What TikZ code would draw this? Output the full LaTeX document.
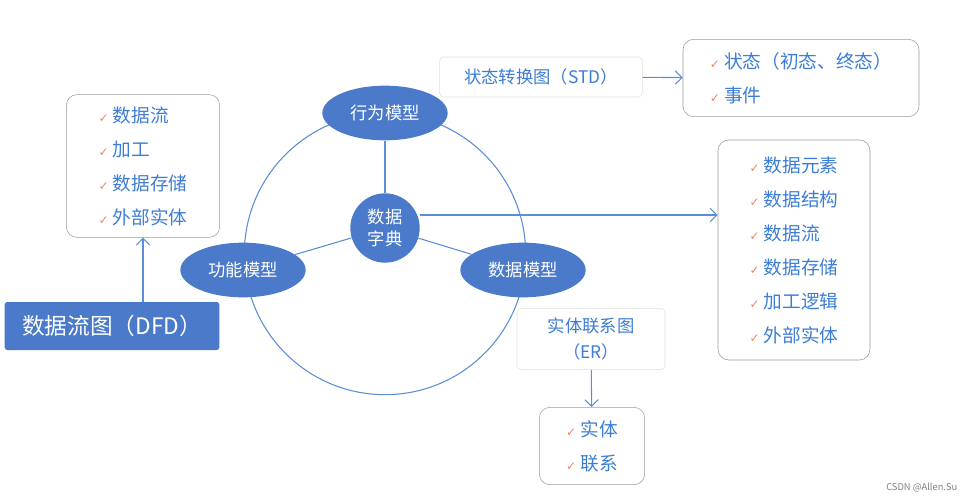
\documentclass[tikz,border=0pt]{standalone}
\usepackage{fontspec}
\setmainfont{Noto Sans CJK SC}
\newfontfamily\symfont{DejaVu Sans}
\usetikzlibrary{shapes.geometric,arrows.meta,positioning,calc}
\definecolor{ovalblue}{HTML}{4A7AC9}
\definecolor{lineblue}{HTML}{5B8ED6}
\definecolor{textblue}{HTML}{3D7DD6}
\definecolor{tick}{HTML}{E8876F}
\newcommand{\ok}{{\symfont\color{tick}\small✓}\ }

\begin{document}
\begin{tikzpicture}[
    x=0.75pt, y=-0.75pt,
    font=\fontsize{13}{16}\selectfont,
    oval/.style={ellipse, fill=ovalblue, text=white, minimum width=94pt, minimum height=41pt, inner sep=0pt},
    listbox/.style={draw=gray!80, rounded corners=8pt, align=left, text=textblue, font=\fontsize{14}{25.5}\selectfont, inner sep=6pt},
    titlebox/.style={draw=gray!25, fill=white, rounded corners=3pt, text=textblue, align=center},
    arrow/.style={-{Straight Barb[length=5pt]}, lineblue, thick},
    link/.style={lineblue, thick}
]
    \useasboundingbox (0,0) rectangle (965,500);

    % Ring of models
    \node[circle, draw=lineblue, thick, minimum size=211pt] (ring) at (385,254) {};
    \node[circle, fill=ovalblue, text=white, minimum size=52pt, inner sep=0pt, align=center] (dict) at (385,228) {数据\\字典};
    \node[oval] (behav) at (385,113) {行为模型};
    \node[oval] (func) at (243,270) {功能模型};
    \node[oval] (data) at (523,270) {数据模型};
    \draw[link] (dict) -- (behav);
    \draw[link] (dict) -- (func);
    \draw[link] (dict) -- (data);

    % Function model
    \node[listbox, minimum width=115pt, minimum height=107pt] (dfd-items) at (143,166) {\ok 数据流\\\ok 加工\\\ok 数据存储\\\ok 外部实体};
    \node[fill=ovalblue, text=white, rounded corners=2pt, minimum width=161pt, minimum height=36pt, font=\fontsize{17}{20}\selectfont] (dfd) at (112,326) {数据流图（DFD）};
    \draw[arrow] (dfd.north -| dfd-items.south) -- (dfd-items.south);

    % Behaviour model
    \node[titlebox, minimum width=152pt, minimum height=30pt] (std) at (541,77) {状态转换图（STD）};
    \node[listbox, minimum width=177pt, minimum height=58pt] (std-items) at (801,78) {\ok 状态（初态、终态）\\\ok 事件};
    \draw[arrow] (std) -- (std-items);

    % Data dictionary
    \node[listbox, minimum width=114pt, minimum height=165pt] (dict-items) at (794,250) {\ok 数据元素\\\ok 数据结构\\\ok 数据流\\\ok 数据存储\\\ok 加工逻辑\\\ok 外部实体};
    \draw[arrow] (dict.east |- 0,215) -- (dict-items.west |- 0,215);

    % Data model
    \node[titlebox, minimum width=111pt, minimum height=46pt, font=\fontsize{13}{19}\selectfont] (er) at (591,339) {实体联系图\\（ER）};
    \node[listbox, minimum width=79pt, minimum height=58pt] (er-items) at (592,446) {\ok 实体\\\ok 联系};
    \draw[arrow] (er) -- (er-items);

    \node[text=gray, font=\fontsize{7}{8}\selectfont, anchor=east] (mark) at (962,488) {CSDN @Allen.Su};
\end{tikzpicture}
\end{document}
